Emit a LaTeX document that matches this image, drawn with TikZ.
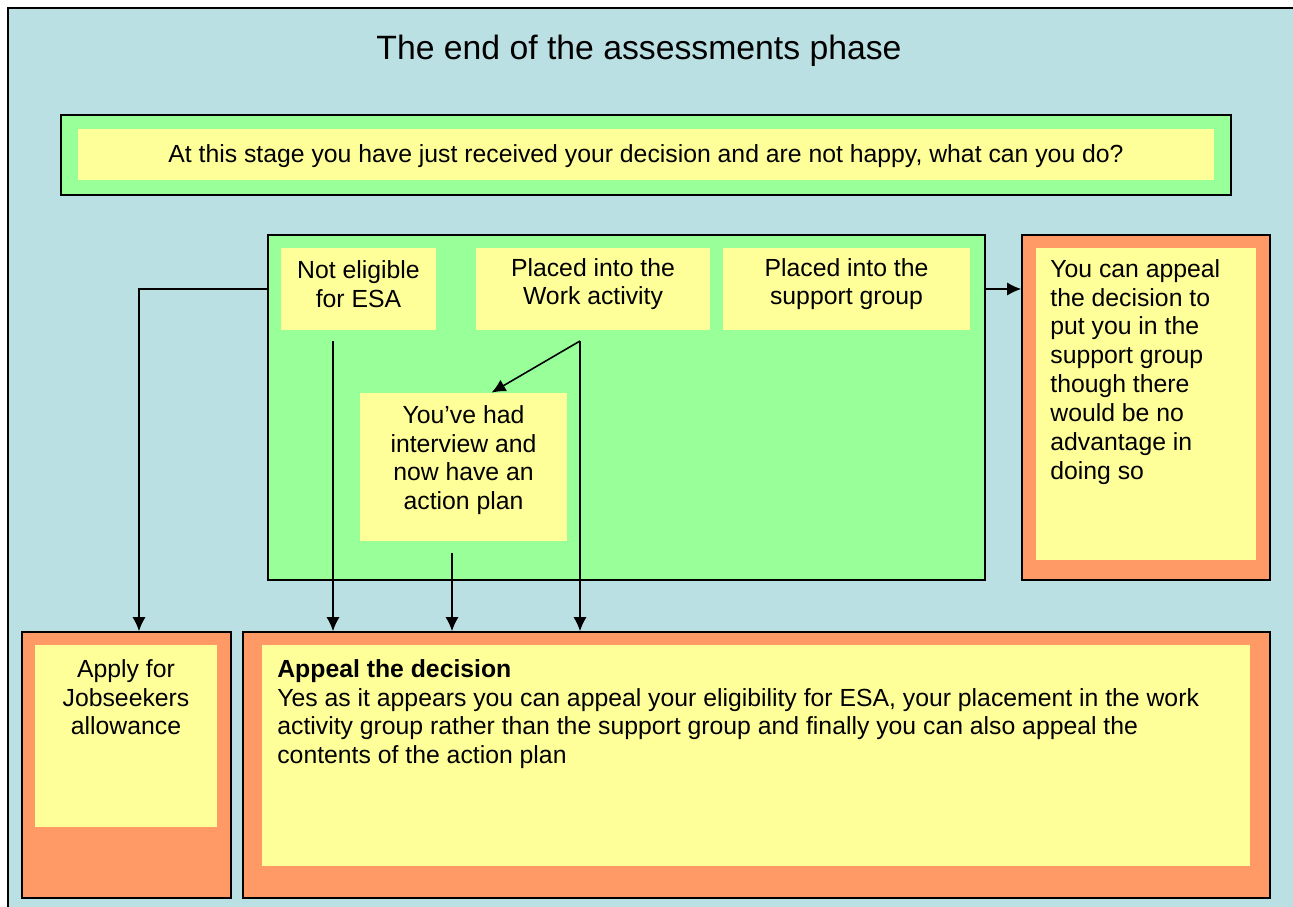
\documentclass[tikz,border=0pt]{standalone}
\usepackage{fontspec}
\setmainfont{Liberation Sans}
\usetikzlibrary{arrows.meta,fit,calc,positioning}

\definecolor{bgblue}{HTML}{BBE0E3}
\definecolor{grn}{HTML}{99FF99}
\definecolor{ylw}{HTML}{FFFF99}
\definecolor{orng}{HTML}{FF9966}

\newcommand{\bodyfont}{\fontsize{14.1}{16.4}\selectfont}

\tikzset{
  frame/.style={draw=black,line width=0.9pt,inner sep=0pt},
  greenbox/.style={frame,fill=grn},
  orangebox/.style={frame,fill=orng},
  yellowbox/.style={fill=ylw,inner sep=0pt,align=center,font=\bodyfont},
  txt/.style={inner sep=0pt,font=\bodyfont},
  link/.style={->,line width=0.9pt}
}

\begin{document}
\begin{tikzpicture}[x=0.02cm,y=-0.02cm,>={Latex[length=8pt,width=7.5pt]}]

\useasboundingbox (0,0) rectangle (1293,906);

% background panel
\draw[fill=bgblue,line width=0.9pt] (8,8) rectangle (1310,920);

\node[font=\fontsize{19.2}{23}\selectfont] (title) at (639,51) {The end of the assessments phase};

% question
\node[greenbox,fit={(61,115) (1231,195)}] (qbox) {};
\node[yellowbox,fit={(78,129) (1214,180)}] (question) {};
\node[txt] at ($(question)+(0,2)$) {At this stage you have just received your decision and are not happy, what can you do?};

% decisions
\node[greenbox,fit={(268,235) (985,580)}] (midbox) {};
\node[yellowbox,fit={(281,248) (436,330)}] (noesa) {};
\node[txt,align=center] at ($(noesa)+(0,-5)$) {Not eligible\\for ESA};
\node[yellowbox,fit={(476,248) (710,330)}] (wag) {};
\node[txt,align=center] at ($(wag)+(0,-5)$) {Placed into the\\Work activity};
\node[yellowbox,fit={(723,248) (970,330)}] (sgroup) {};
\node[txt,align=center] at ($(sgroup)+(0,-5)$) {Placed into the\\support group};
\node[yellowbox,fit={(360,393) (567,541)}] (plan) {};
\node[txt,align=center] at ($(plan)+(0,-7)$) {You’ve had\\interview and\\now have an\\action plan};

% right hand box
\node[orangebox,fit={(1022,235) (1270,580)}] (rightbox) {};
\node[yellowbox,fit={(1036,248) (1256,560)}] (rightin) {};
\node[txt,align=left,anchor=north west] at (1050,259) {You can appeal\\the decision to\\put you in the\\support group\\though there\\would be no\\advantage in\\doing so};

% bottom boxes
\node[orangebox,fit={(22,632) (231,898)}] (applybox) {};
\node[yellowbox,fit={(35,645) (217,827)}] (applyin) {};
\node[txt,align=center,anchor=north] at (126,659) {Apply for\\Jobseekers\\allowance};

\node[orangebox,fit={(243,632) (1270,898)}] (appeal) {};
\node[yellowbox,fit={(262,645) (1250,866)}] (appealin) {};
\node[txt,align=left,anchor=north west] at (277,659) {\textbf{Appeal the decision}\\Yes as it appears you can appeal your eligibility for ESA, your placement in the work\\activity group rather than the support group and finally you can also appeal the\\contents of the action plan};

% connectors
\coordinate (s1) at (333,341);
\coordinate (s2) at (580,341);
\coordinate (s3) at (452,553);

\draw[link] (midbox.west |- noesa) -| ($(applybox.north)+(12.5,0)$);
\draw[link] (midbox.east |- sgroup) -- (rightbox.west |- sgroup);
\draw[link] (s1) -- (s1 |- appeal.north);
\draw[link] (s2) -- ($(plan.north)+(28,0)$);
\draw[link] (s2) -- (s2 |- appeal.north);
\draw[link] (s3) -- (s3 |- appeal.north);

\end{tikzpicture}
\end{document}
